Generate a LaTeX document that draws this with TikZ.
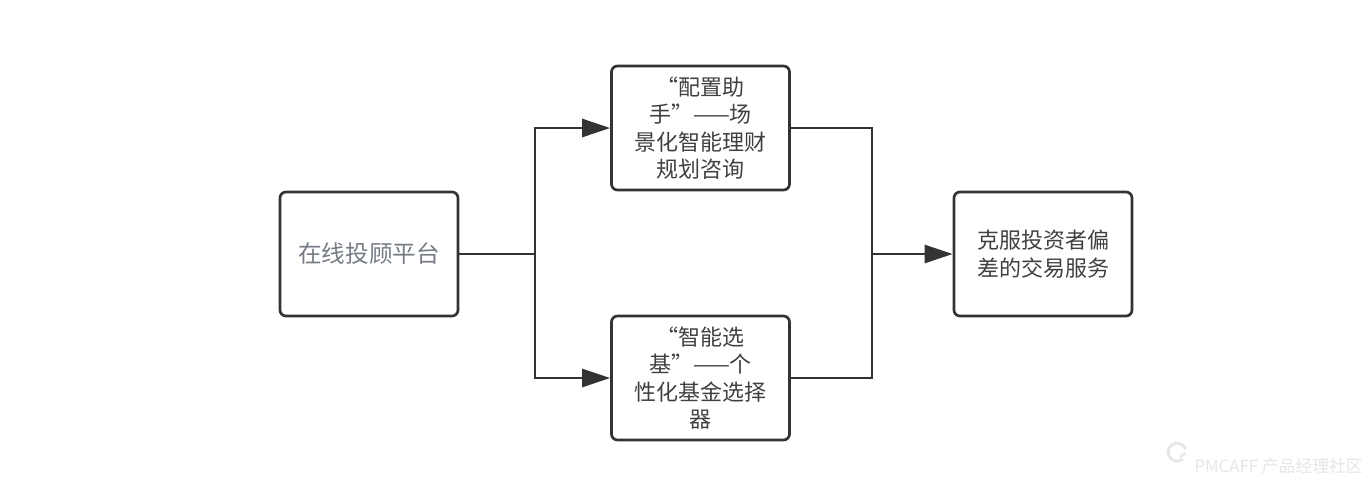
\documentclass[tikz,border=0pt]{standalone}
\usepackage{fontspec}
\setmainfont{Noto Sans CJK SC}
\usetikzlibrary{arrows.meta}
\definecolor{edgegray}{RGB}{51,51,51}
\definecolor{textgray}{RGB}{64,64,64}
\definecolor{softgray}{RGB}{118,124,132}
\definecolor{markgray}{RGB}{230,230,230}
\begin{document}
\begin{tikzpicture}[x=0.5pt,y=-0.5pt,
    box/.style={draw=edgegray, line width=1.35pt, rounded corners=3pt,
        minimum width=89pt, minimum height=62pt, inner sep=2pt,
        align=center, text=textgray, font=\fontsize{11pt}{13.75pt}\selectfont},
    link/.style={draw=edgegray, line width=1.35pt},
    tip/.style={-{Triangle[length=14pt,width=9pt]}}]
    \useasboundingbox (0,0) rectangle (1368,488);

    % boxes
    \node[box, text=softgray, font=\fontsize{11.8pt}{14pt}\selectfont] (platform) at (369,254) {在线投顾平台};
    \node[box] (advisor) at (700.5,128) {“配置助\\手”——场\\景化智能理财\\规划咨询};
    \node[box] (selector) at (700.5,378) {“智能选\\基”——个\\性化基金选择\\器};
    \node[box] (service) at (1043,254) {克服投资者偏\\差的交易服务};

    \coordinate (split) at (535,254);
    \coordinate (merge) at (872,254);

    % connectors
    \draw[link] (platform.east) -- (split);
    \draw[link, tip] (split) |- (advisor.west);
    \draw[link, tip] (split) |- (selector.west);
    \draw[link] (advisor.east) -| (merge);
    \draw[link] (selector.east) -| (merge);
    \draw[link, tip] (merge) -- (service.west);

    % watermark
    \draw[markgray, line width=1.4pt] (1183,459) arc (50:340:9);
    \draw[markgray, line width=1.2pt] (1180,457) -- (1186,453);
    \node[anchor=west, text=markgray, inner sep=0pt, font=\fontsize{8.4pt}{9pt}\selectfont] (mark) at (1194,466) {PMCAFF 产品经理社区};
\end{tikzpicture}
\end{document}
